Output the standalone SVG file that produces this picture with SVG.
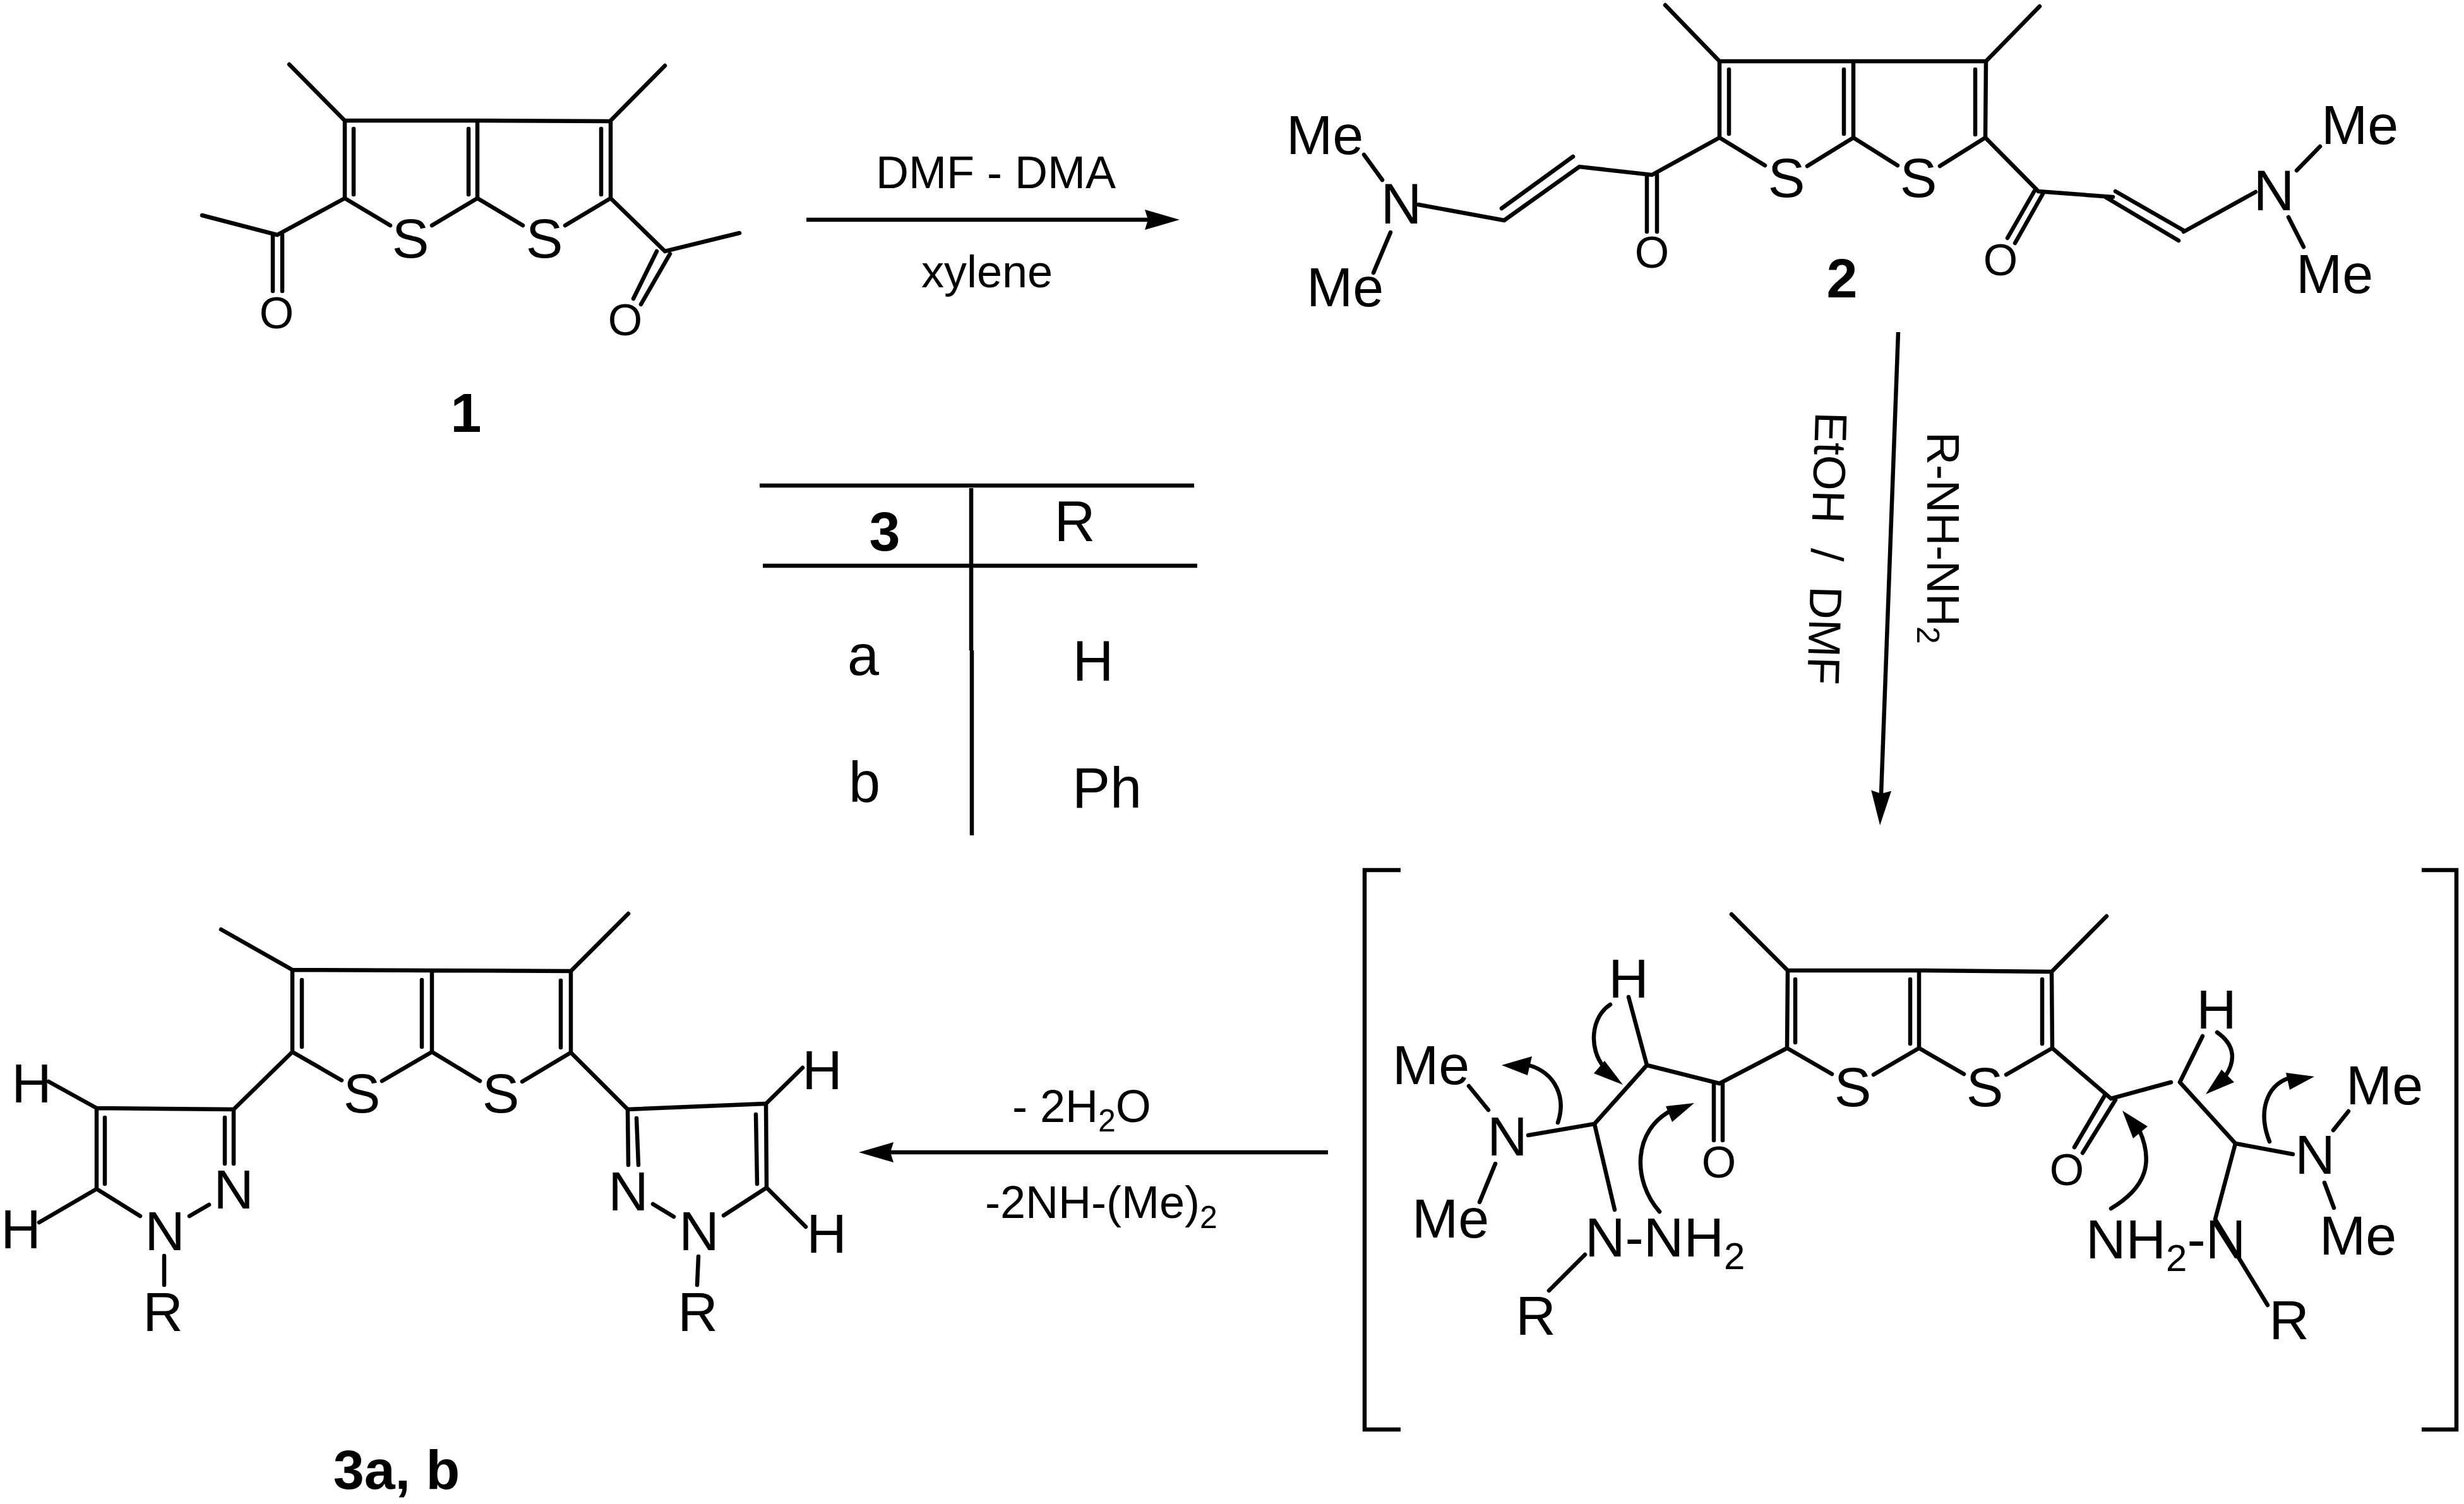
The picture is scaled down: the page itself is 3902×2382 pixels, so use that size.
<svg xmlns="http://www.w3.org/2000/svg" width="3902" height="2382" viewBox="0 0 3902 2382">
<style>
.b{fill:none;stroke:#000;stroke-width:6.5;stroke-linecap:round;stroke-linejoin:miter}
.h{fill:#000;stroke:none}
.k{fill:none;stroke:#000;stroke-width:6.5}
text{font-family:"Liberation Sans",Arial,sans-serif;fill:#000}
.a{font-size:90px;text-anchor:middle}
.s{font-size:88px;text-anchor:middle}
.o{font-size:70px;text-anchor:middle}
.m{font-size:88px}
.n{font-weight:bold;font-size:88px;text-anchor:middle}
.r{font-size:72px}
</style>
<defs>
<marker id="head" viewBox="0 0 55 32" refX="5" refY="16" markerWidth="55" markerHeight="32" markerUnits="userSpaceOnUse" orient="auto"><path d="M0,0L55,16L0,32L5,16Z"/></marker>
</defs>
<rect width="3902" height="2382" fill="#fff"/>

<g id="compound-1">
<path class="b" d="M458,102L546,191L756,191L966,192L1053,104M546,191L546,314L618,357M684,357L756,314L828,357M895,357L967,314L967,192M756,191L756,314M560,204L560,308M742,204L742,308M952,204L952,308M546,314L439,372L320,341M432,372L432,461M447,372L447,461M967,314L1053,398L1171,369M1040,398L1003,473M1061,402L1015,482"/>
<text class="s" x="650" y="408">S</text><text class="s" x="862" y="408">S</text>
<text class="o" x="438" y="520">O</text><text class="o" x="990" y="531">O</text>
<text class="n" x="738" y="684">1</text>
</g>

<g id="compound-2">
<path class="b" d="M2637,8L2723,97L2935,97L3145,97L3230,10M2723,97L2723,218L2795,262M2862,263L2935,218L3005,262M3072,263L3144,218L3145,97M2935,97L2935,218M2738,110L2738,212M2920,110L2920,212M3128,110L3128,213M2723,218L2616,277L2501,264L2382,349L2246,324M2491,248L2378,330M2608,277L2608,367M2624,277L2624,367M2160,245L2189,285M2202,368L2175,432M3144,218L3228,303L3346,312M3334,312L3450,381M3350,303L3458,365M3458,367L3572,304M3637,270L3674,232M3624,344L3648,391M3222,302L3179,377M3235,307L3191,385"/>
<text class="s" x="2829" y="312">S</text><text class="s" x="3038" y="312">S</text>
<text class="o" x="2616" y="424">O</text><text class="o" x="3168" y="436">O</text>
<text class="a" x="2219" y="354">N</text><text class="a" x="3601" y="333">N</text>
<text class="m" x="2037" y="244">Me</text><text class="m" x="2069" y="485">Me</text>
<text class="m" x="3676" y="228">Me</text><text class="m" x="3636" y="464">Me</text>
<text class="n" x="2917" y="471">2</text>
</g>

<g id="table">
<path class="k" d="M1203,769H1891M1208,896H1896M1538,773V1030M1539,1030V1323"/>
<text class="n" x="1401" y="872">3</text>
<text class="a" x="1702" y="857">R</text>
<text class="a" x="1367" y="1069">a</text>
<text class="a" x="1731" y="1078">H</text>
<text class="a" x="1369" y="1270">b</text>
<text class="a" x="1753" y="1279">Ph</text>
</g>

<g id="intermediate">
<path class="k" d="M2218,1378H2161V2264H2218M3835,1378H3890V2264H3835"/>
<path class="b" d="M2742,1448L2831,1537L3039,1537L3249,1539L3336,1451M2831,1537L2830,1660L2901,1701M2967,1702L3039,1660L3110,1701M3177,1702L3250,1660L3249,1539M3039,1537L3039,1660M2843,1551L2843,1651M3025,1551L3025,1653M3234,1551L3234,1653M2830,1660L2723,1716L2608,1687L2525,1780L2420,1798M2608,1687L2579,1579M2714,1717L2714,1806M2728,1717L2728,1806M2525,1780L2557,1916M2326,1720L2357,1758M2368,1843L2343,1904M2510,1987L2453,2044M3250,1660L3343,1740L3438,1714M3452,1714L3540,1811L3631,1828M3452,1714L3488,1641M3333,1735L3285,1817M3350,1742L3298,1826M3695,1790L3719,1760M3681,1873L3696,1913M3540,1811L3508,1931L3591,2067"/>
<text class="s" x="2934" y="1752">S</text><text class="s" x="3143" y="1752">S</text>
<text class="o" x="2722" y="1865">O</text><text class="o" x="3273" y="1877">O</text>
<text class="s" x="2579" y="1580">H</text><text class="s" x="3510" y="1629">H</text>
<text class="s" x="2387" y="1830">N</text><text class="s" x="3666" y="1859">N</text>
<text class="m" x="2205" y="1717">Me</text><text class="m" x="2236" y="1960">Me</text>
<text class="m" x="3715" y="1749">Me</text><text class="m" x="3673" y="1987">Me</text>
<text class="m" x="2510" y="1990">N-NH<tspan font-size="60" dy="20">2</tspan></text>
<text class="m" x="3303" y="1993">NH<tspan font-size="60" dy="20">2</tspan><tspan dy="-20">-N</tspan></text>
<text class="s" x="2432" y="2114">R</text><text class="s" x="3625" y="2121">R</text>
<path class="b" d="M2467,1778C2480,1740 2465,1700 2421,1687M2550,1591C2520,1610 2515,1660 2540,1690M2628,1919C2585,1870 2585,1790 2648,1758M3343,1914C3400,1880 3410,1840 3388,1790M3511,1635C3540,1655 3540,1680 3525,1703M3594,1808C3575,1760 3590,1720 3623,1708"/>
<path class="h" d="M2378,1687L2426,1673L2419,1703ZM2570,1718L2541,1680L2524,1700ZM2683,1747L2638,1752L2648,1777ZM3361,1759L3401,1784L3378,1803ZM3493,1733L3518,1694L3538,1714ZM3665,1705L3620,1699L3626,1726Z"/>
</g>

<g id="compound-3">
<path class="b" d="M350,1472L463,1536L684,1537L904,1538L995,1447M463,1536L463,1666L541,1711M605,1712L684,1666L760,1712M827,1713L904,1667L904,1538M684,1537L684,1666M478,1552L478,1658M668,1552L668,1658M888,1553L888,1659M463,1666L370,1757L153,1755L153,1883L222,1926M166,1770L166,1875M370,1757L370,1843M356,1770L356,1843M300,1926L331,1908M77,1713L153,1755M62,1936L153,1883M260,1989L260,2035M904,1667L994,1757L1213,1748L1214,1881L1146,1925M1197,1765L1199,1875M994,1757L995,1845M1008,1771L1011,1845M1034,1907L1067,1927M1213,1748L1271,1691M1214,1881L1276,1943M1106,1990L1104,2035"/>
<text class="s" x="573" y="1762">S</text><text class="s" x="793" y="1762">S</text>
<text class="s" x="370" y="1914">N</text><text class="s" x="261" y="1980">N</text>
<text class="s" x="995" y="1917">N</text><text class="s" x="1107" y="1980">N</text>
<text class="s" x="50" y="1746">H</text><text class="s" x="33" y="1977">H</text>
<text class="s" x="1302" y="1725">H</text><text class="s" x="1309" y="1984">H</text>
<text class="s" x="258" y="2108">R</text><text class="s" x="1105" y="2108">R</text>
<text class="n" x="628" y="2358">3a, b</text>
</g>

<g id="connectors">
<path class="k" marker-end="url(#head)" d="M1277,348H1818"/>
<path class="k" marker-end="url(#head)" d="M3006,526L2979,1257"/>
<path class="k" marker-end="url(#head)" d="M2103,1825H1410"/>
</g>

<g id="labels">
<text class="r" x="1387" y="298" textLength="380">DMF - DMA</text>
<text class="r" text-anchor="middle" x="1563" y="455">xylene</text>
<text class="r" x="1603" y="1777">- 2H<tspan font-size="50" dy="15">2</tspan><tspan dy="-15">O</tspan></text>
<text class="r" x="1560" y="1929">-2NH-(Me)<tspan font-size="50" dy="16">2</tspan></text>
<text class="r" transform="translate(3052,684) rotate(90)">R-NH-NH<tspan font-size="50" dy="16">2</tspan></text>
<text class="r" style="white-space:pre" transform="translate(2875,652) rotate(91.7)">EtOH  /  DMF</text>
</g>
</svg>
